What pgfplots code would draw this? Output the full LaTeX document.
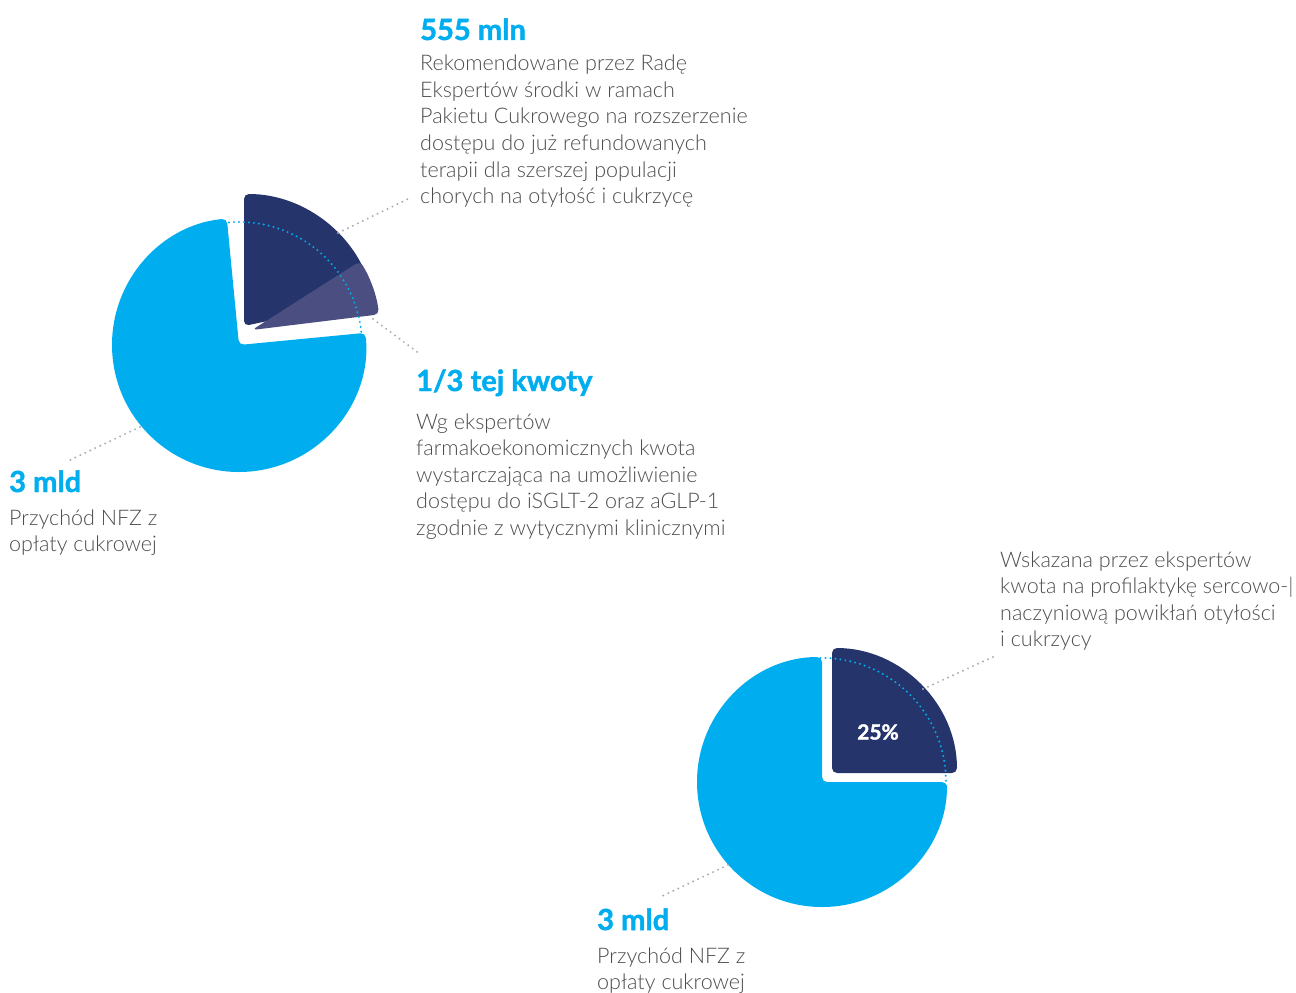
\documentclass[border=0pt]{standalone}
\usepackage{pgfplots}
\pgfplotsset{compat=1.18}
\usepackage{fontspec}
\setmainfont{Lato}
\newfontfamily\lightfont{Lato Light}
\newfontfamily\headfont{Lato}[BoldFeatures={FakeBold=1.6}]
\definecolor{cblue}{HTML}{00AEEF}
\definecolor{cdark}{HTML}{25356B}
\definecolor{clight}{HTML}{4A4E80}
\definecolor{ctext}{HTML}{4D4D4D}
\definecolor{clead}{HTML}{A5ADB5}
\tikzset{leader/.style={clead, line width=2.2bp, line cap=round, dash pattern=on 0pt off 5.5bp}}
\newcommand{\bl}[3]{\node[anchor=base west, inner sep=0pt, text=ctext, font=\lightfont\fontsize{21.6}{26}\selectfont] at (axis cs:#1,#2) {#3};}
\newcommand{\hd}[3]{\node[anchor=base west, inner sep=0pt, text=cblue, font=\headfont\bfseries\fontsize{29.2}{34}\selectfont] at (axis cs:#1,#2) {#3};}
\begin{document}
\begin{tikzpicture}
\begin{axis}[scale only axis, width=1296bp, height=992bp,
  xmin=0, xmax=1296, ymin=0, ymax=992, y dir=reverse,
  hide axis, clip=false]
\addplot[draw=none] coordinates {(0,0) (1296,992)};
% ---- pie 1 : 3 mld, 555 mln, 1/3 of it
\fill[cblue, rounded corners=5bp] (axis cs:239,345) -- ++(95.5:127bp) arc[start angle=95.5, end angle=365.5, radius=127bp] -- cycle;
\fill[cdark, rounded corners=5bp] (axis cs:244,326) -- ++(12:132bp) arc[start angle=12, end angle=90, radius=132bp] -- cycle;
\fill[clight, rounded corners=5bp] (axis cs:252,330) -- ++(7:128bp) arc[start angle=7, end angle=32.5, radius=128bp] -- cycle;
\draw[cblue, line width=2.2bp, line cap=round, dash pattern=on 0pt off 5bp] (axis cs:239,345) ++(97:123bp) arc[start angle=97, end angle=4, radius=123bp];
% ---- pie 2 : 75% / 25%
\fill[cblue, rounded corners=5bp] (axis cs:822,782) -- ++(90:125bp) arc[start angle=90, end angle=360, radius=125bp] -- cycle;
\fill[cdark, rounded corners=5bp] (axis cs:832,773) -- ++(0:125bp) arc[start angle=0, end angle=90, radius=125bp] -- cycle;
\draw[cblue, line width=2.2bp, line cap=round, dash pattern=on 0pt off 5bp] (axis cs:822,782) ++(93:124bp) arc[start angle=93, end angle=-3, radius=124bp];
\node[text=white, font=\headfont\bfseries\fontsize{21}{24}\selectfont, inner sep=0pt] at (axis cs:878,732) {25\%};
% ---- leader lines
\draw[leader] (axis cs:338,233) -- (axis cs:410,198);
\draw[leader] (axis cs:373,319) -- (axis cs:420,354);
\draw[leader] (axis cs:140,427) -- (axis cs:70,460);
\draw[leader] (axis cs:923,689) -- (axis cs:995,656);
\draw[leader] (axis cs:728,865) -- (axis cs:660,897);
% ---- texts
\hd{420}{40}{555 mln}
\bl{420}{71}{Rekomendowane przez Radę}
\bl{420}{97.5}{Ekspertów środki w ramach}
\bl{420}{124}{Pakietu Cukrowego na rozszerzenie}
\bl{420}{150.5}{dostępu do już refundowanych}
\bl{420}{177}{terapii dla szerszej populacji}
\bl{420}{203.5}{chorych na otyłość i cukrzycę}
\hd{416}{391}{1/3 tej kwoty}
\bl{416}{429}{Wg ekspertów}
\bl{416}{455.5}{farmakoekonomicznych kwota}
\bl{416}{482}{wystarczająca na umożliwienie}
\bl{416}{508.5}{dostępu do iSGLT-2 oraz aGLP-1}
\bl{416}{535}{zgodnie z wytycznymi klinicznymi}
\bl{1000}{567}{Wskazana przez ekspertów}
\bl{1000}{593.5}{kwota na profilaktykę sercowo-|}
\bl{1000}{620}{naczyniową powikłań otyłości}
\bl{1000}{646.5}{i cukrzycy}
\hd{9}{492}{3 mld}
\bl{9}{525}{Przychód NFZ z}
\bl{9}{551.5}{opłaty cukrowej}
\hd{597}{930}{3 mld}
\bl{597}{963}{Przychód NFZ z}
\bl{597}{989.5}{opłaty cukrowej}
\end{axis}
\pgfresetboundingbox
\path (current axis.south west) rectangle (current axis.north east);
\end{tikzpicture}
\end{document}
